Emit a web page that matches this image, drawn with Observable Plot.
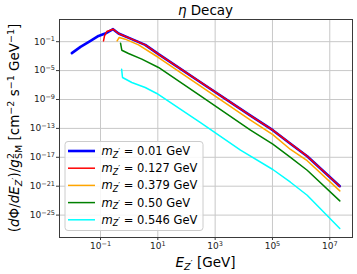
<!DOCTYPE html>
<html><head><meta charset="utf-8">
<script src="https://cdn.jsdelivr.net/npm/d3@7"></script>
<script src="https://cdn.jsdelivr.net/npm/@observablehq/plot@0.6"></script>
<style>
body{margin:0;background:#fff;}
#chart svg{display:block;}
</style></head><body><div id="chart"></div>
<script>
// ---- data (log10 values) ----
const seriesMasses = ["0.01", "0.127", "0.379", "0.50", "0.546"];
const seriesColors = ["#0000ff", "#ff0000", "#ffa500", "#008000", "#00ffff"];
const seriesWidths = [2.6, 1.5, 1.5, 1.5, 1.5];

const logE_001 = [-2.0, -1.698, -1.349, -1.07, -0.836, -0.563, -0.372, 0.092, 0.56, 1.024, 2.489, 4.234, 5.012, 5.629, 6.212, 7.35];
const logF_001 = [-2.59, -1.72, -0.89, -0.20, 0.13, 0.73, 0.13, -0.65, -1.44, -2.73, -6.61, -11.24, -13.25, -15.12, -16.85, -21.0];

const logE_0127 = [-0.895, -0.86, -0.78, -0.563, -0.372, 0.092, 0.56, 1.024, 2.489, 4.234, 5.012, 5.629, 6.212, 7.35];
const logF_0127 = [-0.89, -0.20, 0.41, 0.73, 0.13, -0.65, -1.44, -2.73, -6.61, -11.24, -13.25, -15.12, -16.85, -21.0];

const logE_0379 = [-0.421, -0.347, -0.138, 0.326, 1.024, 2.489, 4.234, 5.012, 5.629, 6.212, 7.35];
const logF_0379 = [-0.89, -0.42, -0.65, -1.44, -3.19, -7.16, -11.87, -13.87, -15.92, -17.47, -21.65];

const logE_050 = [-0.301, -0.257, -0.023, 0.441, 1.024, 2.489, 4.234, 5.012, 5.629, 6.212, 7.35];
const logF_050 = [-1.21, -2.18, -2.63, -3.42, -4.57, -8.5, -13.25, -15.19, -17.0, -18.79, -23.03];

const logE_0546 = [-0.263, -0.232, 0.092, 0.56, 0.964, 2.489, 3.885, 5.012, 5.629, 6.212, 7.35];
const logF_0546 = [-4.81, -5.96, -6.65, -7.34, -8.17, -12.2, -16.02, -18.69, -20.45, -22.25, -26.85];

const xTicks = [1e-1, 1e1, 1e3, 1e5, 1e7];
const yTicks = [1e-25, 1e-21, 1e-17, 1e-13, 1e-9, 1e-5, 1e-1];
const titleWord = "Decay";

// ---- build tables ----
const logEs = [logE_001, logE_0127, logE_0379, logE_050, logE_0546];
const logFs = [logF_001, logF_0127, logF_0379, logF_050, logF_0546];
const series = seriesMasses.map((m, i) => logEs[i].map((e, j) => ({E: 10 ** e, F: 10 ** logFs[i][j], m})));

const W = 357, H = 274;
const mL = 59, mR = 5, mT = 19, mB = 37;
const sup = d => "10^" + String(Math.round(Math.log10(d))).replace("-", "\u2212");

const plot = Plot.plot({
  width: W, height: H,
  marginLeft: mL, marginRight: mR, marginTop: mT, marginBottom: mB,
  style: {fontFamily: "DejaVu Sans", fontSize: "9px", background: "white", color: "#222"},
  x: {type: "log", domain: [10 ** -2.431, 10 ** 7.793]},
  y: {type: "log", domain: [10 ** -28.1, 10 ** 2.07]},
  marks: [
    Plot.gridX(xTicks, {stroke: "#c8c8c8", strokeOpacity: 1, strokeWidth: 1}),
    Plot.gridY(yTicks, {stroke: "#c8c8c8", strokeOpacity: 1, strokeWidth: 1}),
    ...series.map((rows, i) => Plot.line(rows, {x: "E", y: "F", stroke: seriesColors[i], strokeWidth: seriesWidths[i], curve: "linear"})),
    Plot.frame({stroke: "#3a3a3a", strokeWidth: 1}),
    Plot.axisX(xTicks, {tickSize: 3, tickPadding: 2, tickFormat: sup, label: null, stroke: "#3a3a3a"}),
    Plot.axisY(yTicks, {tickSize: 3, tickPadding: 1.5, tickFormat: sup, label: null, stroke: "#3a3a3a"})
  ]
});
document.getElementById("chart").appendChild(plot);

const svg = d3.select(plot);
// superscript tick labels
svg.selectAll("text").each(function() {
  const t = this.textContent;
  if (/^10\^/.test(t)) {
    const exp = t.slice(3);
    const el = d3.select(this);
    el.text(null);
    el.append("tspan").text("10");
    el.append("tspan").attr("font-size", "6.5px").attr("dy", "-0.5em").text(exp);
  }
});

// helper: append tspans [text, dy, fontSize, italic]
function addParts(sel, parts) {
  parts.forEach(([s, dy, fs, it, dx]) => {
    const ts = sel.append("tspan").text(s);
    if (dy) ts.attr("dy", dy);
    if (dx) ts.attr("dx", dx);
    if (fs) ts.attr("font-size", fs);
    if (it) ts.attr("font-style", "italic");
  });
}

// title
const tt = svg.append("text").attr("x", (mL + W - mR) / 2).attr("y", 15).attr("text-anchor", "middle")
  .attr("font-size", "13.5px").attr("fill", "#000");
addParts(tt, [["η", 0, null, true], [" " + titleWord, 0, null, false]]);

// x label
const xl = svg.append("text").attr("x", (mL + W - mR) / 2).attr("y", 266.5).attr("text-anchor", "middle")
  .attr("font-size", "13.5px").attr("fill", "#000");
addParts(xl, [["E", 0, null, true], ["Z", 3, "9.5px", true], ["\u2032", -3, "9.5px", false], [" [GeV]", 0, null, false]]);

// y label
const yl = svg.append("text").attr("transform", `translate(18.5,${(mT + H - mB) / 2}) rotate(-90)`)
  .attr("text-anchor", "middle").attr("font-size", "13.5px").attr("fill", "#000");
addParts(yl, [
  ["(", 0, null, false], ["d", 0, null, true], ["Φ", 0, null, false], ["/", 0, null, false],
  ["d", 0, null, true], ["E", 0, null, true], ["Z", 3, "9.5px", true], ["\u2032", -3, "9.5px", false], [")", 0, null, false],
  ["/", 0, null, false], ["g", 0, null, true], ["2", -5, "9.5px", false], ["SM", 8, "9.5px", false, -6],
  [" [cm", -3, null, false], ["\u22122", -5, "9.5px", false], [" s", 5, null, false],
  ["\u22121", -5, "9.5px", false], [" GeV", 5, null, false], ["\u22121", -5, "9.5px", false], ["]", 5, null, false]
]);

// legend
const lg = svg.append("g");
lg.append("rect").attr("x", 65).attr("y", 141.5).attr("width", 138).attr("height", 89)
  .attr("rx", 3).attr("fill", "white").attr("fill-opacity", 0.85).attr("stroke", "#cccccc").attr("stroke-width", 1);
seriesMasses.forEach((m, i) => {
  const cy = 151 + i * 17.2;
  lg.append("line").attr("x1", 68).attr("x2", 95).attr("y1", cy).attr("y2", cy)
    .attr("stroke", seriesColors[i]).attr("stroke-width", seriesWidths[i]);
  const t = lg.append("text").attr("x", 101.5).attr("y", cy + 4).attr("text-anchor", "start")
    .attr("font-size", "11.5px").attr("fill", "#000");
  addParts(t, [["m", 0, null, true], ["Z", 2.5, "8px", true], ["\u2032", -2.5, "8px", false], [" = " + m + " GeV", 0, null, false]]);
});
</script></body></html>
